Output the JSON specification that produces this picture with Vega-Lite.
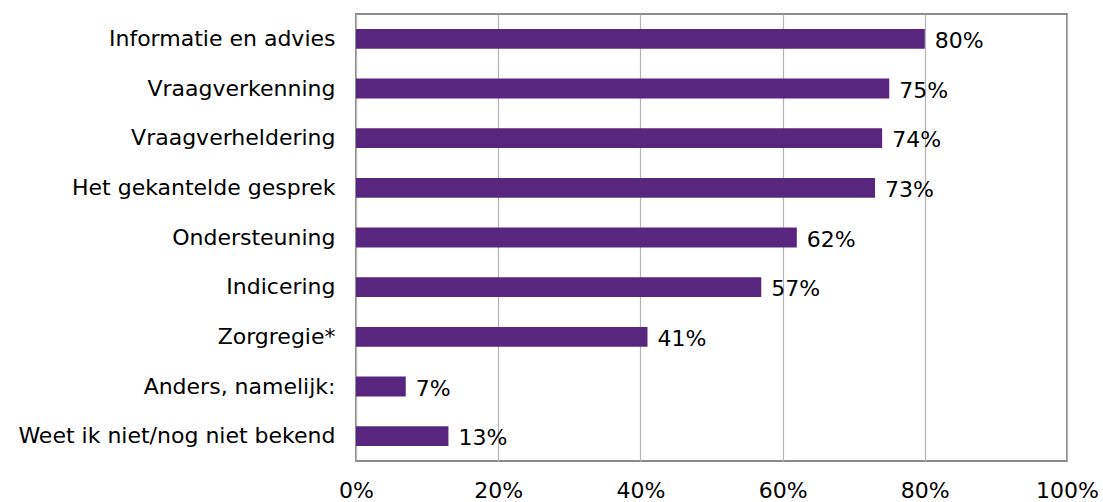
{
  "$schema": "https://vega.github.io/schema/vega-lite/v6.json",
  "width": 711,
  "height": 447,
  "autosize": "none",
  "padding": {"left": 356, "top": 14, "right": 36, "bottom": 41},
  "background": "white",
  "config": {
    "font": "DejaVu Sans",
    "view": {"stroke": "#8c8c8c", "strokeWidth": 2}
  },
  "data": {
    "values": [
      {"category": "Informatie en advies", "value": 80, "label": "80%"},
      {"category": "Vraagverkenning", "value": 75, "label": "75%"},
      {"category": "Vraagverheldering", "value": 74, "label": "74%"},
      {"category": "Het gekantelde gesprek", "value": 73, "label": "73%"},
      {"category": "Ondersteuning", "value": 62, "label": "62%"},
      {"category": "Indicering", "value": 57, "label": "57%"},
      {"category": "Zorgregie*", "value": 41, "label": "41%"},
      {"category": "Anders, namelijk:", "value": 7, "label": "7%"},
      {"category": "Weet ik niet/nog niet bekend", "value": 13, "label": "13%"}
    ]
  },
  "encoding": {
    "y": {
      "field": "category",
      "type": "nominal",
      "sort": null,
      "scale": {"paddingInner": 0.6, "paddingOuter": 0.3},
      "axis": {
        "title": null,
        "ticks": false,
        "domain": false,
        "labelFontSize": 22,
        "labelColor": "#000000",
        "labelPadding": 21,
        "labelLimit": 400
      }
    },
    "x": {
      "field": "value",
      "type": "quantitative",
      "scale": {"domain": [0, 100], "nice": false},
      "axis": {
        "title": null,
        "values": [0, 20, 40, 60, 80, 100],
        "labelExpr": "datum.value + '%'",
        "ticks": false,
        "domain": false,
        "grid": true,
        "gridColor": "#b4b4b4",
        "gridWidth": 1.2,
        "labelFontSize": 22,
        "labelColor": "#000000",
        "labelPadding": 19,
        "labelFlush": false
      }
    }
  },
  "layer": [
    {"mark": {"type": "bar", "color": "#58267e"}},
    {
      "mark": {"type": "text", "align": "left", "baseline": "middle", "dx": 10, "dy": 2, "fontSize": 22, "color": "#000000"},
      "encoding": {"text": {"field": "label", "type": "nominal"}}
    }
  ]
}
